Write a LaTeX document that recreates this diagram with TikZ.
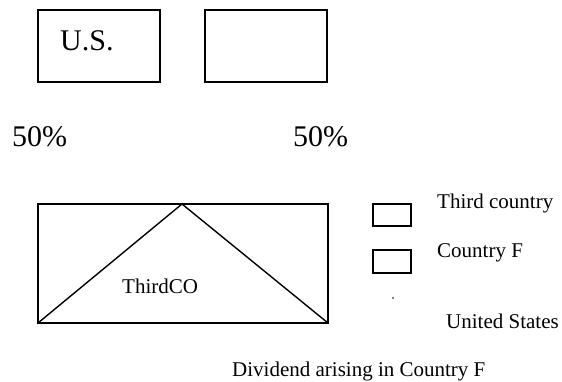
\documentclass[tikz,border=0pt]{standalone}
\usepackage{fontspec}
\setmainfont{Liberation Serif}
\begin{document}
\begin{tikzpicture}[x=1pt,y=-1pt,
  box/.style={draw,line width=1.4pt,inner sep=0pt},
  big/.style={font=\fontsize{30}{33}\selectfont,inner sep=0pt,anchor=base west},
  small/.style={font=\fontsize{21}{24}\selectfont,inner sep=0pt,anchor=base west}]
\useasboundingbox (0,0) rectangle (562,381);
% top boxes
\draw[box] (38,10) rectangle (160,82);
\draw[box] (205,10) rectangle (327,82);
\node[big] (us) at (60,50) {U.S.};
\node[big] (pl) at (12,146) {50\%};
\node[big] (pr) at (293,146) {50\%};
% big rectangle with triangle
\coordinate (bl) at (38,323);
\coordinate (br) at (328,323);
\coordinate (apex) at (182,204);
\draw[box] (38,204) rectangle (328,323);
\draw[line width=1.4pt,line join=miter] (bl) -- (apex) -- (br);
\node[small] (tc) at (122,293) {ThirdCO};
% legend
\draw[box] (373,204) rectangle (411,226);
\draw[box] (373,250) rectangle (411,273);
\fill (393,298) circle (0.9);
\node[small] (l1) at (437,208) {Third country};
\node[small] (l2) at (437,257) {Country F};
\node[small] (l3) at (446,328) {United States};
\node[small] (cap) at (232,376) {Dividend arising in Country F};
\end{tikzpicture}
\end{document}
